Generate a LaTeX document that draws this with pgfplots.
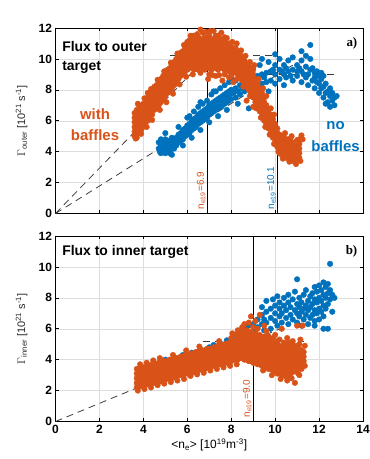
\documentclass[border=0pt]{standalone}
\usepackage{pgfplots}
\pgfplotsset{compat=1.18}
\usepackage{fontspec}
\setmainfont{Liberation Sans}
\newfontfamily\serifbf{Liberation Serif}
\definecolor{mor}{RGB}{217,83,25}
\definecolor{mbl}{RGB}{0,114,189}
\definecolor{dgr}{RGB}{60,60,60}
\pgfplotsset{
  base/.style={
    scale only axis, width=307.5bp, height=185.5bp,
    xmin=0, xmax=14, ymin=0, ymax=12,
    xtick={0,2,...,14}, ytick={0,2,...,12},
    grid=major, major grid style={draw=black!13, line width=0.5pt},
    axis line style={line width=0.8pt},
    tick style={black, line width=0.6pt},
    major tick length=3.5pt,
    /pgf/number format/assume math mode=true,
    tick label style={font=\bfseries\fontsize{12}{12}\selectfont},
    ylabel style={at={(axis description cs:-0.11,0.5)}, anchor=center, rotate=0, font=\fontsize{11}{13}\selectfont, text=black!85},
  },
  od/.style={only marks, mark=*, mark size=2.8pt, color=mor, mark options={fill=mor, draw=mor}},
  bd/.style={only marks, mark=*, mark size=2.8pt, color=mbl, mark options={fill=mbl, draw=mbl}},
  fit/.style={dgr, line width=0.8pt, dash pattern=on 7pt off 5pt},
}
\begin{document}
\begin{tikzpicture}
% ---------------- top panel ----------------
\begin{axis}[base, at={(55.5bp,-28bp)}, anchor=north west,
  xticklabels={},
  ylabel={$\Gamma$\textsubscript{outer} [10\textsuperscript{21} s\textsuperscript{-1}]}]
% blue, 62807
\addplot[bd] coordinates {
(4.7,4.2)(4.7,4.6)(4.8,3.9)(4.8,4.4)(4.8,4.8)(4.9,4.1)(4.9,4.6)(5.0,3.9)(5.0,4.3)(5.0,4.8)
(5.1,4.0)(5.1,4.5)(5.2,3.9)(5.2,4.2)(5.2,4.7)(5.3,4.4)(5.3,4.9)(5.4,4.2)(5.4,4.7)(5.5,4.4)(5.5,4.9)
(5.6,4.6)(5.6,5.1)(5.7,4.7)(5.7,5.2)(5.8,4.8)(5.8,5.4)(5.9,5.0)(5.9,5.5)(6.0,5.1)(6.0,5.7)
(6.1,5.2)(6.1,5.8)(6.1,6.3)(6.2,5.4)(6.2,6.0)(6.3,5.5)(6.3,6.1)(6.3,6.6)(6.4,5.6)(6.4,6.2)
(6.5,5.8)(6.5,6.4)(6.5,6.9)(6.6,5.9)(6.6,6.5)(6.7,6.0)(6.7,6.6)(6.7,7.1)(6.8,6.1)(6.8,6.7)
(6.9,6.2)(6.9,6.8)(6.9,7.3)(7.0,6.4)(7.0,7.0)(7.1,6.5)(7.1,7.1)(7.1,7.7)(7.2,6.6)(7.2,7.2)
(7.3,6.7)(7.3,7.3)(7.3,7.9)(7.4,6.8)(7.4,7.4)(7.5,6.9)(7.5,7.5)(7.5,8.1)(7.6,7.0)(7.6,7.6)
(7.7,7.1)(7.7,7.7)(7.7,8.3)(7.8,7.2)(7.8,7.8)(7.9,7.3)(7.9,7.9)(7.9,8.5)(8.0,7.4)(8.0,8.0)
(8.2,7.5)(8.2,8.1)(8.2,8.6)(8.4,7.7)(8.4,8.3)(8.8,6.8)(8.6,7.9)(8.6,8.5)(8.6,9.1)
(8.8,8.0)(8.8,8.6)(9.0,8.1)(9.0,8.8)(9.0,9.4)(9.2,8.3)(9.2,8.9)(9.3,7.6)(9.3,9.6)
(9.4,8.4)(9.4,9.0)(9.4,10.0)(9.6,8.5)(9.6,9.1)(9.7,7.9)(9.7,9.8)(9.8,8.6)(9.8,9.2)(10.0,10.3)
(10.0,8.4)(10.0,9.0)(10.0,9.6)(10.2,8.7)(10.2,9.3)(10.2,10.0)(10.4,8.3)(10.4,9.0)(10.4,9.6)
(10.5,8.8)(10.5,9.4)(10.6,9.2)(10.6,9.9)(10.8,8.6)(10.8,9.3)(10.8,10.1)(11.0,8.9)(11.0,9.6)(11.0,9.2)
(11.2,8.5)(11.2,9.2)(11.2,9.9)(11.2,10.5)(11.4,8.8)(11.4,9.5)(11.4,10.2)(11.5,8.3)(11.5,9.0)
(11.6,9.3)(11.6,10.0)(11.6,10.9)(11.7,8.6)(11.7,9.4)(11.8,8.1)(11.8,8.8)(11.8,9.1)(11.9,8.5)(11.9,9.2)
(12.0,7.8)(12.0,8.4)(12.0,9.0)(12.1,8.1)(12.1,8.7)(12.2,7.5)(12.2,8.2)(12.2,8.9)(12.3,7.8)(12.3,8.4)
(12.4,7.2)(12.4,7.9)(12.5,6.9)(12.5,7.6)(12.5,8.1)(12.6,7.3)(12.6,7.8)(12.7,7.5)(12.8,7.6)
(4.75,4.0)(4.85,4.6)(4.95,4.35)(5.05,4.1)(5.15,4.7)(5.25,4.15)(5.35,4.65)(5.45,4.5)(5.55,4.75)
(5.65,4.9)(5.75,5.0)(5.85,5.1)(5.95,5.3)(6.05,5.45)(6.15,5.55)(6.25,5.7)(6.35,5.85)(6.45,6.0)
(6.55,6.15)(6.65,6.3)(6.75,6.35)(6.85,6.5)(6.95,6.55)(7.05,6.75)(7.15,6.85)(7.25,6.95)(7.35,7.05)
(7.45,7.2)(7.55,7.3)(7.65,7.35)(7.75,7.5)(7.85,7.55)(7.95,7.7)(8.1,7.8)(8.3,7.9)(8.5,8.1)(8.7,8.3)
(8.9,8.4)(9.1,8.6)(9.5,8.8)(9.9,9.3)(10.3,9.2)(10.7,8.9)(11.1,9.4)(11.3,9.0)(11.9,8.9)(12.1,9.1)
(12.3,7.1)(12.7,7.0)
(5.0,5.2)(5.3,3.8)(5.8,4.4)(6.2,4.9)(6.6,5.4)(7.0,5.9)(7.4,6.3)(7.8,6.7)(8.3,7.1)(8.0,8.7)
(7.2,7.9)(6.6,7.2)(6.0,6.2)(5.6,5.6)
};
% orange, 64623
\addplot[od] coordinates {
(3.6,5.0)(3.6,5.3)(3.6,5.6)(3.6,5.9)(3.6,6.2)(3.6,6.5)
(3.7,4.9)(3.7,5.2)(3.7,5.5)(3.7,5.8)(3.7,6.1)(3.7,6.4)(3.7,6.7)
(3.8,5.2)(3.8,5.5)(3.8,5.8)(3.8,6.1)(3.8,6.4)(3.8,6.7)(3.8,7.0)
(3.9,5.4)(3.9,5.7)(3.9,6.0)(3.9,6.3)(3.9,6.6)(3.9,6.9)
(4.0,5.6)(4.0,5.9)(4.0,6.2)(4.0,6.5)(4.0,6.8)(4.0,7.1)
(4.1,5.9)(4.1,6.2)(4.1,6.5)(4.1,6.8)(4.1,7.1)(4.1,7.4)
(4.2,6.0)(4.2,6.3)(4.2,6.6)(4.2,6.9)(4.2,7.2)(4.2,7.5)(4.2,7.8)
(4.3,6.3)(4.3,6.6)(4.3,6.9)(4.3,7.2)(4.3,7.5)(4.3,7.8)
(4.4,6.4)(4.4,6.7)(4.4,7.0)(4.4,7.3)(4.4,7.6)(4.4,7.9)
(4.5,6.7)(4.5,7.0)(4.5,7.3)(4.5,7.6)(4.5,7.9)(4.5,8.2)
(4.6,6.8)(4.6,7.1)(4.6,7.4)(4.6,7.7)(4.6,8.0)(4.6,8.3)
(4.7,7.0)(4.7,7.3)(4.7,7.6)(4.7,7.9)(4.7,8.2)(4.7,8.5)
(4.8,7.2)(4.8,7.5)(4.8,7.8)(4.8,8.1)(4.8,8.4)(4.8,8.7)
(4.9,7.4)(4.9,7.7)(4.9,8.0)(4.9,8.3)(4.9,8.6)(4.9,8.9)
(5.0,7.6)(5.0,7.9)(5.0,8.2)(5.0,8.5)(5.0,8.8)(5.0,9.1)
(5.1,7.8)(5.1,8.1)(5.1,8.4)(5.1,8.7)(5.1,9.0)(5.1,9.3)
(5.2,7.9)(5.2,8.2)(5.2,8.5)(5.2,8.8)(5.2,9.1)(5.2,9.4)
(5.3,8.1)(5.3,8.4)(5.3,8.7)(5.3,9.0)(5.3,9.3)(5.3,9.6)
(5.4,8.3)(5.4,8.6)(5.4,8.9)(5.4,9.2)(5.4,9.5)(5.4,9.8)
(5.5,8.5)(5.5,8.8)(5.5,9.1)(5.5,9.4)(5.5,9.7)(5.5,10.0)
(5.6,8.7)(5.6,9.0)(5.6,9.3)(5.6,9.6)(5.6,9.9)(5.6,10.2)
(5.7,8.9)(5.7,9.2)(5.7,9.5)(5.7,9.8)(5.7,10.1)(5.7,10.4)
(5.8,9.0)(5.8,9.3)(5.8,9.6)(5.8,9.9)(5.8,10.2)(5.8,10.5)
(5.9,9.2)(5.9,9.5)(5.9,9.8)(5.9,10.1)(5.9,10.4)(5.9,10.7)
(6.0,9.3)(6.0,9.6)(6.0,9.9)(6.0,10.2)(6.0,10.5)(6.0,10.8)(6.0,11.1)
(6.1,9.4)(6.1,9.7)(6.1,10.0)(6.1,10.3)(6.1,10.6)(6.1,10.9)(6.1,11.2)
(6.2,9.5)(6.2,9.8)(6.2,10.1)(6.2,10.4)(6.2,10.7)(6.2,11.0)(6.2,11.3)
(6.3,9.3)(6.3,9.6)(6.3,9.9)(6.3,10.2)(6.3,10.5)(6.3,10.8)(6.3,11.1)(6.3,11.5)
(6.4,9.4)(6.4,9.7)(6.4,10.0)(6.4,10.3)(6.4,10.6)(6.4,10.9)(6.4,11.2)
(6.5,9.3)(6.5,9.6)(6.5,9.9)(6.5,10.2)(6.5,10.5)(6.5,10.8)(6.5,11.1)(6.5,11.4)
(6.6,9.5)(6.6,9.8)(6.6,10.1)(6.6,10.4)(6.6,10.7)(6.6,11.0)(6.6,11.3)
(6.7,9.4)(6.7,9.7)(6.7,10.0)(6.7,10.3)(6.7,10.6)(6.7,10.9)(6.7,11.2)(6.7,11.7)
(6.8,9.3)(6.8,9.6)(6.8,9.9)(6.8,10.2)(6.8,10.5)(6.8,10.8)(6.8,11.1)(6.8,11.4)
(6.9,9.5)(6.9,9.8)(6.9,10.1)(6.9,10.4)(6.9,10.7)(6.9,11.0)(6.9,11.3)
(7.0,9.4)(7.0,9.7)(7.0,10.0)(7.0,10.3)(7.0,10.6)(7.0,10.9)(7.0,11.2)(7.0,11.5)
(7.1,9.3)(7.1,9.6)(7.1,9.9)(7.1,10.2)(7.1,10.5)(7.1,10.8)(7.1,11.1)
(7.2,9.5)(7.2,9.8)(7.2,10.1)(7.2,10.4)(7.2,10.7)(7.2,11.0)(7.2,11.3)(7.2,11.8)
(7.3,9.4)(7.3,9.7)(7.3,10.0)(7.3,10.3)(7.3,10.6)(7.3,10.9)(7.3,11.2)(7.3,11.5)
(7.4,9.3)(7.4,9.6)(7.4,9.9)(7.4,10.2)(7.4,10.5)(7.4,10.8)(7.4,11.1)
(7.5,9.5)(7.5,9.8)(7.5,10.1)(7.5,10.4)(7.5,10.7)(7.5,11.0)(7.5,11.3)
(7.6,9.4)(7.6,9.7)(7.6,10.0)(7.6,10.3)(7.6,10.6)(7.6,10.9)(7.6,11.2)
(7.7,9.3)(7.7,9.6)(7.7,9.9)(7.7,10.2)(7.7,10.5)(7.7,10.8)(7.7,11.1)(7.7,11.4)
(7.8,9.5)(7.8,9.8)(7.8,10.1)(7.8,10.4)(7.8,10.7)(7.8,11.0)
(7.9,9.2)(7.9,9.5)(7.9,9.8)(7.9,10.1)(7.9,10.4)(7.9,10.7)(7.9,11.0)
(8.0,9.3)(8.0,9.6)(8.0,9.9)(8.0,10.2)(8.0,10.5)(8.0,10.8)
(8.1,9.1)(8.1,9.4)(8.1,9.7)(8.1,10.0)(8.1,10.3)(8.1,10.6)
(8.2,9.2)(8.2,9.5)(8.2,9.8)(8.2,10.1)(8.2,10.4)(8.2,10.7)
(6.95,8.7)(7.3,8.9)(7.6,8.6)(7.9,8.8)(8.1,8.5)(7.0,9.0)(7.45,8.95)
(8.3,9.0)(8.3,9.3)(8.3,9.6)(8.3,9.9)(8.3,10.2)(8.3,10.5)
(8.4,8.8)(8.4,9.1)(8.4,9.4)(8.4,9.7)(8.4,10.0)(8.4,10.3)
(8.5,8.6)(8.5,8.9)(8.5,9.2)(8.5,9.5)(8.5,9.8)(8.5,10.1)
(8.6,8.4)(8.6,8.7)(8.6,9.0)(8.6,9.3)(8.6,9.6)(8.6,9.9)
(8.7,8.2)(8.7,8.5)(8.7,8.8)(8.7,9.1)(8.7,9.4)(8.7,9.7)
(8.8,8.0)(8.8,8.3)(8.8,8.6)(8.8,8.9)(8.8,9.2)(8.8,9.5)
(8.9,7.8)(8.9,8.1)(8.9,8.4)(8.9,8.7)(8.9,9.0)(8.9,9.3)
(9.0,7.5)(9.0,7.8)(9.0,8.1)(9.0,8.4)(9.0,8.7)(9.0,9.0)(9.0,9.3)
(9.1,7.2)(9.1,7.5)(9.1,7.8)(9.1,8.1)(9.1,8.4)(9.1,8.7)
(9.2,6.9)(9.2,7.2)(9.2,7.5)(9.2,7.8)(9.2,8.1)(9.2,8.4)
(9.3,6.6)(9.3,6.9)(9.3,7.2)(9.3,7.5)(9.3,7.8)(9.3,8.1)
(9.4,6.3)(9.4,6.6)(9.4,6.9)(9.4,7.2)(9.4,7.5)(9.4,7.8)
(9.5,6.0)(9.5,6.3)(9.5,6.6)(9.5,6.9)(9.5,7.2)(9.5,7.5)
(9.6,5.8)(9.6,6.1)(9.6,6.4)(9.6,6.7)(9.6,7.0)
(9.7,5.5)(9.7,5.8)(9.7,6.1)(9.7,6.4)(9.7,6.7)
(9.8,5.2)(9.8,5.5)(9.8,5.8)(9.8,6.1)(9.8,6.4)
(9.9,4.9)(9.9,5.2)(9.9,5.5)(9.9,5.8)(9.9,6.1)
(10.0,4.6)(10.0,4.9)(10.0,5.2)(10.0,5.5)(10.0,5.8)
(10.1,4.3)(10.1,4.6)(10.1,4.9)(10.1,5.2)(10.1,5.5)
(8.7,7.3)(9.0,6.9)
(10.2,3.9)(10.2,4.2)(10.2,4.5)(10.2,4.8)(10.2,5.1)
(10.3,3.8)(10.3,4.1)(10.3,4.4)(10.3,4.7)(10.3,5.0)
(10.4,3.7)(10.4,4.0)(10.4,4.3)(10.4,4.6)(10.4,4.9)
(10.5,3.6)(10.5,3.9)(10.5,4.2)(10.5,4.5)(10.5,4.8)
(10.6,3.6)(10.6,3.9)(10.6,4.2)(10.6,4.5)(10.6,4.8)
(10.7,3.5)(10.7,3.8)(10.7,4.1)(10.7,4.4)(10.7,4.7)
(10.8,3.4)(10.8,3.7)(10.8,4.0)(10.8,4.3)(10.8,4.6)
(10.9,3.4)(10.9,3.7)(10.9,4.0)(10.9,4.3)
(11.0,3.5)(11.0,3.8)(11.0,4.1)(11.0,4.4)
(11.1,3.6)(11.1,3.9)(11.1,4.2)(11.1,4.5)(11.1,4.8)(11.25,4.8)
% ragged edges
(3.65,4.85)(3.9,5.15)(4.15,5.6)(4.4,6.05)(4.75,6.7)(5.05,7.2)(5.35,7.75)(5.65,8.35)(5.95,8.85)
(3.75,7.1)(4.05,7.45)(4.35,8.05)(4.65,8.65)(4.95,9.2)(5.25,9.75)(5.55,10.35)(5.85,10.9)
(6.15,11.5)(6.45,11.6)(6.6,11.9)(6.85,11.75)(7.05,11.8)(7.4,11.5)(7.55,11.7)(7.8,11.35)(8.05,11.1)(8.25,11.0)
(6.25,9.0)(6.6,9.1)(7.15,8.95)(7.7,9.0)(8.0,8.9)(8.25,8.7)
(8.45,10.55)(8.65,10.2)(8.85,9.8)(9.05,9.6)(9.25,8.7)(9.45,8.1)(9.6,7.6)(9.8,6.8)(9.95,6.4)
(8.55,8.2)(8.85,7.6)(9.15,6.8)(9.35,6.2)(9.55,5.6)(9.75,5.1)(9.95,4.5)(10.15,4.0)
(10.35,3.55)(10.65,3.35)(10.95,3.2)(11.15,3.4)(10.45,5.2)(10.75,5.0)(11.0,4.75)(11.2,5.05)
};
\addplot[fit] coordinates {(0,0) (7.5,11.0)};
\addplot[fit] coordinates {(5.2,10.2) (9.9,10.2)};
\addplot[fit] coordinates {(0,0) (10.8,9.6)};
\addplot[fit] coordinates {(9.1,9.0) (12.8,9.0)};
\addplot[black, line width=0.8pt] coordinates {(6.9,0) (6.9,12)};
\addplot[black, line width=0.8pt] coordinates {(10.1,0) (10.1,12)};
\node[rotate=90, anchor=south west, inner sep=1.5pt, text=mor, font=\fontsize{10}{10}\selectfont] at (axis cs:6.9,0.15) {n\textsubscript{e19}=6.9};
\node[rotate=90, anchor=south west, inner sep=1.5pt, text=mbl, font=\fontsize{10}{10}\selectfont] at (axis cs:10.1,0.15) {n\textsubscript{e19}=10.1};
\node[anchor=north west, inner sep=0pt, align=left, font=\bfseries\fontsize{14}{19}\selectfont] at (axis cs:0.3,11.15) {Flux to outer\\target};
\node[anchor=east, inner sep=0pt, font=\serifbf\bfseries\fontsize{13}{13}\selectfont] at (axis cs:13.75,11.0) {a)};
\node[align=center, text=mor, font=\bfseries\fontsize{15}{21}\selectfont] at (axis cs:1.8,5.75) {with\\baffles};
\node[align=center, text=mbl, font=\bfseries\fontsize{15}{22}\selectfont] at (axis cs:12.75,4.95) {no\\baffles};
\node[anchor=base, font=\bfseries\fontsize{13.5}{13.5}\selectfont] at (axis description cs:0.5,1.0) [yshift=11bp] {Target ion fluxes};
\node[anchor=base east, inner sep=0pt, font=\fontsize{11}{11}\selectfont] at (axis description cs:1.0,1.0) [yshift=4bp] {\textcolor{mor}{64623}\ \ \textcolor{mbl}{62807}};
\end{axis}
% ---------------- bottom panel ----------------
\begin{axis}[base, at={(55.5bp,-236bp)}, anchor=north west,
  ylabel={$\Gamma$\textsubscript{inner} [10\textsuperscript{21} s\textsuperscript{-1}]},
  xlabel={<n\textsubscript{e}> [10\textsuperscript{19}m\textsuperscript{-3}]},
  xlabel style={at={(axis description cs:0.5,-0.125)}, anchor=center, font=\fontsize{12}{14}\selectfont}]
% blue, 62807
\addplot[bd] coordinates {
(5.0,4.0)(5.4,4.15)(5.8,4.3)(6.2,4.45)(6.6,4.65)(7.0,4.8)(7.2,4.95)(7.5,5.05)(7.8,5.25)(8.1,5.45)(8.4,5.75)
(8.6,6.0)(8.7,5.7)(8.8,6.2)(9.0,6.3)(9.1,5.9)
(9.2,6.1)(9.2,6.6)(9.4,6.3)(9.4,6.9)(9.4,7.4)(9.5,5.9)(9.5,6.6)(9.6,6.4)(9.6,7.1)(9.6,7.8)
(9.8,6.0)(9.8,6.7)(9.8,7.3)(9.9,7.9)(10.0,6.5)(10.0,7.0)(10.0,7.5)(10.1,6.2)(10.1,8.1)
(10.2,6.8)(10.2,7.3)(10.2,7.7)(10.3,6.4)(10.3,7.0)(10.4,7.5)(10.4,8.0)(10.5,6.7)(10.5,7.2)
(10.6,6.3)(10.6,7.7)(10.6,8.2)(10.7,6.9)(10.7,7.4)(10.8,6.6)(10.8,7.9)(10.9,7.2)(10.9,8.4)
(11.0,6.4)(11.0,7.0)(11.0,7.6)(11.0,9.2)(11.1,6.8)(11.1,7.4)(11.1,8.0)(11.2,6.2)(11.2,7.1)(11.2,7.7)
(11.3,6.6)(11.3,7.3)(11.3,8.2)(11.4,6.9)(11.4,7.5)(11.4,8.5)(11.5,6.3)(11.5,7.2)(11.5,7.8)
(11.6,6.7)(11.6,7.4)(11.6,8.1)(11.7,6.9)(11.7,7.6)(11.7,8.3)(11.8,6.2)(11.8,6.5)(11.8,7.2)(11.8,7.9)(11.8,8.7)
(11.9,7.0)(11.9,7.7)(11.9,8.4)(12.0,6.6)(12.0,7.3)(12.0,8.0)(12.0,8.8)(12.1,7.1)(12.1,7.8)(12.1,8.5)
(12.2,6.0)(12.2,6.8)(12.2,7.5)(12.2,8.2)(12.2,9.0)(12.3,7.3)(12.3,8.0)(12.3,8.7)
(12.4,6.0)(12.4,7.6)(12.4,8.3)(12.4,8.9)(12.5,7.9)(12.5,8.5)(12.5,10.2)(12.6,7.1)(12.6,8.2)(12.7,8.0)
};
% orange, 64623
\addplot[od] coordinates {
(3.7,2.2)(3.7,2.5)(3.7,2.8)(3.7,3.1)(3.7,3.4)(3.8,2.3)(3.8,2.6)(3.8,2.9)(3.8,3.2)(3.8,3.4)
(3.9,2.3)(3.9,2.6)(3.9,2.9)(3.9,3.2)(3.9,3.5)(4.0,2.3)(4.0,2.6)(4.0,2.9)(4.0,3.2)(4.0,3.5)
(4.1,2.4)(4.1,2.7)(4.1,3.0)(4.1,3.3)(4.1,3.5)(4.2,2.4)(4.2,2.7)(4.2,3.0)(4.2,3.3)(4.2,3.6)
(4.3,2.4)(4.3,2.7)(4.3,3.0)(4.3,3.3)(4.3,3.6)(4.4,2.5)(4.4,2.8)(4.4,3.1)(4.4,3.4)(4.4,3.7)
(4.5,2.5)(4.5,2.8)(4.5,3.1)(4.5,3.4)(4.5,3.7)(4.6,2.6)(4.6,2.9)(4.6,3.2)(4.6,3.5)(4.6,3.7)
(4.7,2.6)(4.7,2.9)(4.7,3.2)(4.7,3.5)(4.7,3.8)(4.8,2.6)(4.8,2.9)(4.8,3.2)(4.8,3.5)(4.8,3.8)
(4.9,2.7)(4.9,3.0)(4.9,3.3)(4.9,3.6)(4.9,3.9)(5.0,2.7)(5.0,3.0)(5.0,3.3)(5.0,3.6)(5.0,3.9)
(5.1,2.8)(5.1,3.1)(5.1,3.4)(5.1,3.7)(5.1,3.9)(5.2,2.8)(5.2,3.1)(5.2,3.4)(5.2,3.7)(5.2,4.0)
(5.3,2.8)(5.3,3.1)(5.3,3.4)(5.3,3.7)(5.3,4.0)(5.4,2.9)(5.4,3.2)(5.4,3.5)(5.4,3.8)(5.4,4.1)
(5.5,2.9)(5.5,3.2)(5.5,3.5)(5.5,3.8)(5.5,4.1)(5.6,3.0)(5.6,3.3)(5.6,3.6)(5.6,3.9)(5.6,4.1)
(5.7,3.0)(5.7,3.3)(5.7,3.6)(5.7,3.9)(5.7,4.2)(5.8,3.0)(5.8,3.3)(5.8,3.6)(5.8,3.9)(5.8,4.2)
(5.9,3.1)(5.9,3.4)(5.9,3.7)(5.9,4.0)(5.9,4.3)(6.0,3.1)(6.0,3.4)(6.0,3.7)(6.0,4.0)(6.0,4.3)
(6.1,3.2)(6.1,3.5)(6.1,3.8)(6.1,4.1)(6.1,4.3)(6.2,3.2)(6.2,3.5)(6.2,3.8)(6.2,4.1)(6.2,4.4)
(6.3,3.2)(6.3,3.5)(6.3,3.8)(6.3,4.1)(6.3,4.4)(6.4,3.3)(6.4,3.6)(6.4,3.9)(6.4,4.2)(6.4,4.5)
(6.5,3.3)(6.5,3.6)(6.5,3.9)(6.5,4.2)(6.5,4.5)(6.6,3.4)(6.6,3.7)(6.6,4.0)(6.6,4.3)(6.6,4.5)
(6.7,3.4)(6.7,3.7)(6.7,4.0)(6.7,4.3)(6.7,4.6)(6.8,3.4)(6.8,3.7)(6.8,4.0)(6.8,4.3)(6.8,4.6)
(6.9,3.5)(6.9,3.8)(6.9,4.1)(6.9,4.4)(6.9,4.7)(7.0,3.5)(7.0,3.8)(7.0,4.1)(7.0,4.4)(7.0,4.7)
(7.1,3.6)(7.1,3.9)(7.1,4.2)(7.1,4.5)(7.1,4.7)(7.2,3.6)(7.2,3.9)(7.2,4.2)(7.2,4.5)(7.2,4.8)
(7.3,3.6)(7.3,3.9)(7.3,4.2)(7.3,4.5)(7.3,4.8)(7.4,3.7)(7.4,4.0)(7.4,4.3)(7.4,4.6)(7.4,4.9)
(7.5,3.7)(7.5,4.0)(7.5,4.3)(7.5,4.6)(7.5,4.9)(7.6,3.8)(7.6,4.1)(7.6,4.4)(7.6,4.7)(7.6,4.9)
(7.7,3.8)(7.7,4.1)(7.7,4.4)(7.7,4.7)(7.7,5.0)(7.8,3.8)(7.8,4.1)(7.8,4.4)(7.8,4.7)(7.8,5.0)
(7.9,3.9)(7.9,4.2)(7.9,4.5)(7.9,4.8)(7.9,5.1)(8.0,3.9)(8.0,4.2)(8.0,4.5)(8.0,4.8)(8.0,5.1)(8.0,5.4)
(8.1,4.0)(8.1,4.3)(8.1,4.6)(8.1,4.9)(8.1,5.2)(8.2,4.0)(8.2,4.3)(8.2,4.6)(8.2,4.9)(8.2,5.2)(8.2,5.6)
(8.3,4.0)(8.3,4.3)(8.3,4.6)(8.3,4.9)(8.3,5.2)(8.3,5.5)(8.3,5.9)
(8.4,4.1)(8.4,4.4)(8.4,4.7)(8.4,5.0)(8.4,5.3)(8.4,5.7)
(8.5,4.1)(8.5,4.4)(8.5,4.7)(8.5,5.0)(8.5,5.3)(8.5,5.6)(8.5,6.1)
(8.6,4.0)(8.6,4.3)(8.6,4.6)(8.6,4.9)(8.6,5.2)(8.6,5.5)(8.6,5.8)(8.6,6.3)
(8.7,4.0)(8.7,4.3)(8.7,4.6)(8.7,4.9)(8.7,5.2)(8.7,5.5)(8.7,5.9)
(8.8,3.9)(8.8,4.2)(8.8,4.5)(8.8,4.8)(8.8,5.1)(8.8,5.4)(8.8,5.7)(8.8,6.4)
(8.9,3.9)(8.9,4.2)(8.9,4.5)(8.9,4.8)(8.9,5.1)(8.9,5.4)(8.9,5.8)(8.9,6.8)
(9.0,3.8)(9.0,4.1)(9.0,4.4)(9.0,4.7)(9.0,5.0)(9.0,5.3)(9.0,5.6)(9.0,6.1)
(9.1,3.8)(9.1,4.1)(9.1,4.4)(9.1,4.7)(9.1,5.0)(9.1,5.3)(9.1,5.7)(9.1,6.5)
(9.2,3.7)(9.2,4.0)(9.2,4.3)(9.2,4.6)(9.2,4.9)(9.2,5.2)(9.2,5.5)(9.2,6.0)
(9.3,3.7)(9.3,4.0)(9.3,4.3)(9.3,4.6)(9.3,4.9)(9.3,5.2)(9.3,5.6)(9.3,6.9)
(9.4,3.6)(9.4,3.9)(9.4,4.2)(9.4,4.5)(9.4,4.8)(9.4,5.1)(9.4,5.4)
(9.5,3.6)(9.5,3.9)(9.5,4.2)(9.5,4.5)(9.5,4.8)(9.5,5.1)(9.5,5.5)(9.5,6.2)
(9.6,3.5)(9.6,3.8)(9.6,4.1)(9.6,4.4)(9.6,4.7)(9.6,5.0)(9.6,5.3)
(9.7,3.4)(9.7,3.7)(9.7,4.0)(9.7,4.3)(9.7,4.6)(9.7,4.9)(9.7,5.2)(9.7,5.5)
(9.8,3.4)(9.8,3.7)(9.8,4.0)(9.8,4.3)(9.8,4.6)(9.8,4.9)(9.8,5.2)
(9.9,3.3)(9.9,3.6)(9.9,3.9)(9.9,4.2)(9.9,4.5)(9.9,4.8)(9.9,5.1)(9.9,5.4)
(10.0,3.2)(10.0,3.5)(10.0,3.8)(10.0,4.1)(10.0,4.4)(10.0,4.7)(10.0,5.0)
(10.1,3.1)(10.1,3.4)(10.1,3.7)(10.1,4.0)(10.1,4.3)(10.1,4.6)(10.1,4.9)(10.1,5.2)
(10.2,3.1)(10.2,3.4)(10.2,3.7)(10.2,4.0)(10.2,4.3)(10.2,4.6)(10.2,4.9)(10.2,5.3)
(10.3,3.0)(10.3,3.3)(10.3,3.6)(10.3,3.9)(10.3,4.2)(10.3,4.5)(10.3,4.8)(10.3,6.0)
(10.4,3.0)(10.4,3.3)(10.4,3.6)(10.4,3.9)(10.4,4.2)(10.4,4.5)(10.4,4.8)(10.4,5.1)
(10.5,2.9)(10.5,3.2)(10.5,3.5)(10.5,3.8)(10.5,4.1)(10.5,4.4)(10.5,4.7)(10.5,5.0)
(10.6,3.0)(10.6,3.3)(10.6,3.6)(10.6,3.9)(10.6,4.2)(10.6,4.5)(10.6,4.8)(10.6,5.1)
(10.7,3.1)(10.7,3.4)(10.7,3.7)(10.7,4.0)(10.7,4.3)(10.7,4.6)(10.7,4.9)
(10.8,3.2)(10.8,3.5)(10.8,3.8)(10.8,4.1)(10.8,4.4)(10.8,4.7)(10.8,5.0)(10.8,5.2)
(10.9,2.5)(10.9,3.3)(10.9,3.6)(10.9,3.9)(10.9,4.2)(10.9,4.5)(10.9,4.8)
(11.0,3.4)(11.0,3.7)(11.0,4.0)(11.0,4.3)(11.0,4.6)(11.0,4.9)(11.0,6.2)
(11.1,3.0)(11.1,3.5)(11.1,3.8)(11.1,4.1)(11.1,4.4)(11.1,4.7)(11.1,5.0)
(11.2,3.4)(11.2,3.7)(11.2,4.0)(11.2,4.3)(11.2,4.6)(11.25,6.2)(11.3,3.9)(11.3,4.2)(11.3,4.5)
% ragged edges
(3.75,2.0)(4.05,2.1)(4.35,2.2)(4.65,2.35)(4.95,2.45)(5.25,2.55)(5.55,2.65)(5.85,2.75)(6.15,2.95)
(6.45,3.05)(6.75,3.15)(7.05,3.3)(7.35,3.4)(7.65,3.5)(7.95,3.6)(8.25,3.7)
(3.85,3.7)(4.15,3.8)(4.45,3.95)(4.75,4.1)(5.35,4.3)(5.95,4.6)(6.55,4.85)(7.45,5.2)(8.05,5.7)
(9.45,3.3)(9.85,3.0)(10.25,2.75)(10.55,2.65)(10.75,2.8)(11.05,3.1)(11.35,3.6)(11.35,4.9)
(11.15,5.3)(10.55,5.4)(10.0,5.6)(9.6,5.85)
};
\addplot[fit] coordinates {(0,0) (10.4,6.1)};
\addplot[fit] coordinates {(6.7,5.2) (11.3,5.2)};
\addplot[black, line width=0.8pt] coordinates {(9.0,0) (9.0,12)};
\node[rotate=90, anchor=south west, inner sep=1.5pt, text=mor, font=\fontsize{10}{10}\selectfont] at (axis cs:9.0,0.15) {n\textsubscript{e19}=9.0};
\node[anchor=west, inner sep=0pt, font=\bfseries\fontsize{14}{19}\selectfont] at (axis cs:0.3,11.0) {Flux to inner target};
\node[anchor=east, inner sep=0pt, font=\serifbf\bfseries\fontsize{13}{13}\selectfont] at (axis cs:13.75,11.0) {b)};
\end{axis}
\pgfresetboundingbox
\path[use as bounding box] (0,0) rectangle (370bp,-459bp);
\end{tikzpicture}
\end{document}
